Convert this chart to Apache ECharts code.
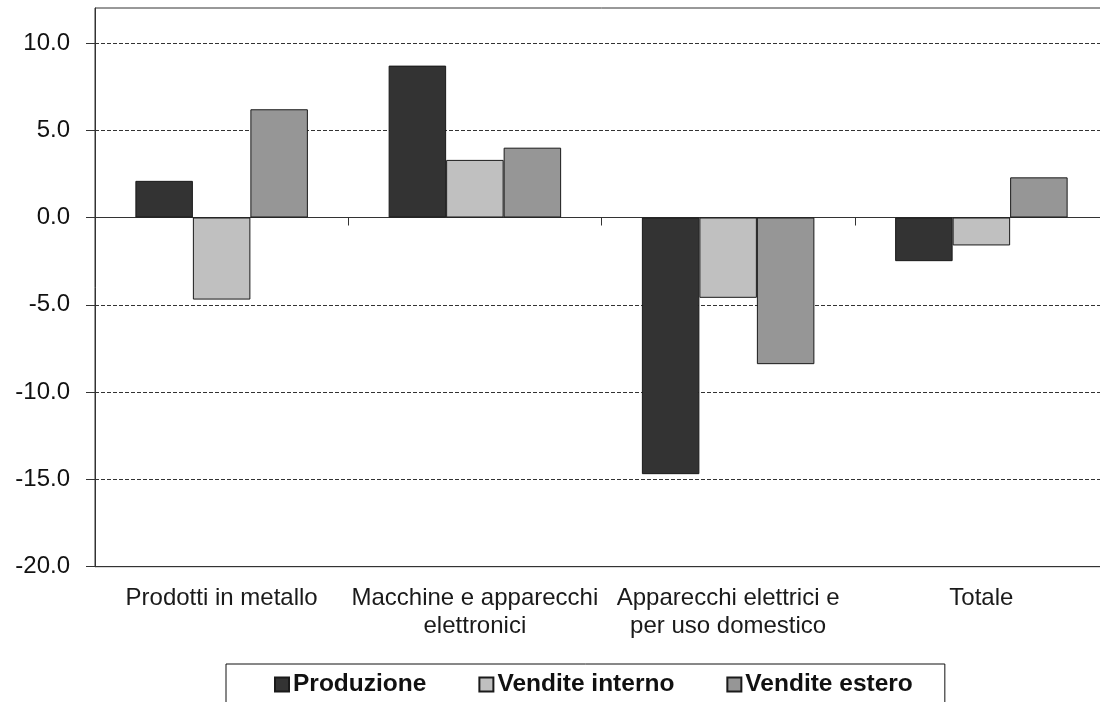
<!DOCTYPE html>
<html>
<head>
<meta charset="utf-8">
<script src="https://cdn.jsdelivr.net/npm/echarts@6/dist/echarts.min.js"></script>
<style>
html,body{margin:0;padding:0;background:#fff;overflow:hidden;width:1100px;height:702px;}
#c{width:1112px;height:702px;}
</style>
</head>
<body>
<div id="c"></div>
<script>
var categories = ["Prodotti in metallo", "Macchine e apparecchi\nelettronici", "Apparecchi elettrici e\nper uso domestico", "Totale"];
var seriesNames = ["Produzione", "Vendite interno", "Vendite estero"];
var produzione = [2.1, 8.7, -14.7, -2.5];
var venditeInterno = [-4.7, 3.3, -4.6, -1.6];
var venditeEstero = [6.2, 4.0, -8.4, 2.3];
var yTicks = [-20, -15, -10, -5, 0, 5, 10];

var FONT = "'Liberation Sans', Arial, sans-serif";
var colors = ["#333333", "#c0c0c0", "#969696"];
var values = [produzione, venditeInterno, venditeEstero];

var chart = echarts.init(document.getElementById('c'), null, {renderer: 'canvas'});
chart.setOption({
  animation: false,
  backgroundColor: '#ffffff',
  grid: {
    left: 95, top: 8, width: 1013, height: 558.7,
    show: true, borderColor: '#333', borderWidth: 1, backgroundColor: 'transparent'
  },
  legend: {
    left: 226, top: 664,
    data: seriesNames,
    itemWidth: 14, itemHeight: 14, itemGap: 52,
    icon: 'rect',
    borderColor: '#111', borderWidth: 1,
    padding: [8, 32, 24, 48],
    textStyle: {fontFamily: FONT, fontSize: 24.5, fontWeight: 'bold', color: '#111', padding: [0, 0, 0, -1]},
    selectedMode: false
  },
  xAxis: [
    {
      type: 'category', data: categories, position: 'bottom',
      axisLine: {onZero: true, lineStyle: {color: '#333', width: 1}},
      axisTick: {show: true, length: 8, lineStyle: {color: '#333'}},
      axisLabel: {show: false},
      splitLine: {show: false}
    },
    {
      type: 'category', data: categories, position: 'bottom',
      axisLine: {onZero: false, lineStyle: {color: '#333', width: 1}},
      axisTick: {show: false},
      axisLabel: {show: true, interval: 0, margin: 18, fontFamily: FONT, fontSize: 24, color: '#1a1a1a', lineHeight: 28},
      splitLine: {show: false}
    }
  ],
  yAxis: {
    type: 'value', min: -20, max: 12, interval: 5,
    axisLine: {show: true, lineStyle: {color: '#333', width: 1}},
    axisTick: {show: true, length: 9, inside: false, customValues: yTicks, lineStyle: {color: '#333'}},
    axisLabel: {
      customValues: yTicks, margin: 25, fontFamily: FONT, fontSize: 24, color: '#111',
      formatter: function (v) { return v.toFixed(1); }
    },
    splitLine: {show: true, lineStyle: {color: '#333', width: 1, type: [4, 2]}}
  },
  series: seriesNames.map(function (name, i) {
    return {
      name: name, type: 'bar', xAxisIndex: 0,
      data: values[i],
      barWidth: 57.5, barGap: '0%',
      itemStyle: {color: colors[i], borderColor: '#1a1a1a', borderWidth: 1}
    };
  })
});
</script>
</body>
</html>
